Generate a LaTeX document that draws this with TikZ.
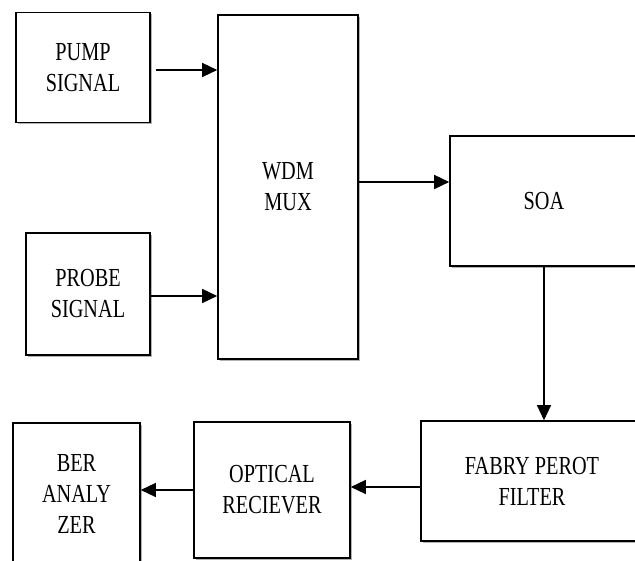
\documentclass[tikz,border=0pt]{standalone}
\usepackage{fontspec}
\setmainfont{Liberation Serif}[FakeStretch=0.78]
\usetikzlibrary{arrows.meta,shadows}
\begin{document}
\begin{tikzpicture}[x=1pt,y=-1pt,
  blk/.style={draw=black,line width=1.6pt,fill=white,align=center,inner sep=0pt,
    font=\fontsize{26}{31}\selectfont,
    drop shadow={shadow xshift=1.5pt,shadow yshift=-2pt,opacity=0.3,fill=black}},
  arr/.style={line width=1.4pt,-{Triangle[length=15pt,width=14pt]}}]
\useasboundingbox[fill=white] (0,0) rectangle (635,561);
\node[blk,minimum width=134pt,minimum height=110pt] (pump) at (83,67.5) {PUMP\\SIGNAL};
\node[blk,minimum width=124pt,minimum height=122pt] (probe) at (88,294) {PROBE\\SIGNAL};
\node[blk,minimum width=140pt,minimum height=344pt] (wdm) at (288,187) {WDM\\MUX};
\node[blk,minimum width=188pt,minimum height=130pt] (soa) at (544,201) {SOA};
\node[blk,minimum width=222pt,minimum height=120pt] (fabry) at (532,481) {FABRY PEROT\\FILTER};
\node[blk,minimum width=156pt,minimum height=136pt] (opt) at (272,490) {OPTICAL\\RECIEVER};
\node[blk,minimum width=127pt,minimum height=142pt] (ber) at (76.5,494) {BER\\ANALY\\ZER};
\draw[arr] ([xshift=5pt,yshift=-2.5pt]pump.east) -- ([yshift=-2.5pt]pump.east -| wdm.west);
\draw[arr] ([yshift=-2pt]probe.east) -- ([yshift=-2pt]probe.east -| wdm.west);
\draw[arr] ([yshift=5pt]wdm.east) -- ([yshift=5pt]wdm.east -| soa.west);
\draw[arr] (soa.south) -- (soa.south |- fabry.north);
\draw[arr] ([yshift=-6pt]fabry.west) -- ([yshift=-6pt]fabry.west -| opt.east);
\draw[arr] (opt.west) -- (opt.west -| ber.east);
\end{tikzpicture}
\end{document}
